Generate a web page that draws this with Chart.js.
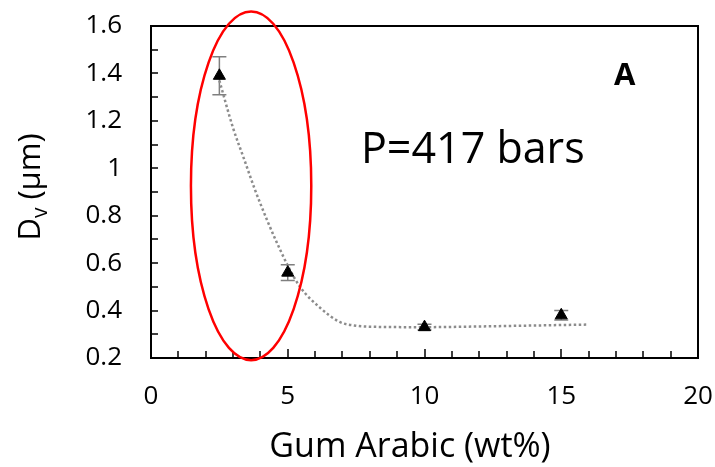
<!DOCTYPE html>
<html lang="en">
<head>
<meta charset="UTF-8">
<title>Dv vs Gum Arabic</title>
<script src="https://cdn.jsdelivr.net/npm/chart.js"></script>
<style>
  html, body { margin: 0; padding: 0; background: #fff; }
  #wrap { width: 715px; height: 467px; }
</style>
</head>
<body>
<div id="wrap"><canvas id="dvChart" width="715" height="467"></canvas></div>
<script>
  // measured points
  const gumArabic = [2.5, 5, 10, 15];
  const dv = [1.39, 0.56, 0.33, 0.38];
  const dvErr = [0.08, 0.033, 0.012, 0.02];

  // dotted trend line
  const trendX = [2.5, 3.0, 3.4, 3.8, 4.25, 4.55, 5.0, 5.45, 6.2, 6.9, 7.5, 8, 10, 12, 14, 16];
  const trendY = [1.37, 1.17, 1.04, 0.91, 0.78, 0.70, 0.59, 0.50, 0.41, 0.352, 0.336, 0.332, 0.330, 0.333, 0.337, 0.341];

  const xMin = 0, xMax = 20, xStep = 5, xMinorStep = 1;
  const yMin = 0.2, yMax = 1.6, yStep = 0.2, yMinorStep = 0.1;

  // highlighted region (ellipse) in data units
  const ringCenter = [3.66, 0.926];
  const ringRadius = [2.2, 0.735];

  const FONT = '"Open Sans", Lato, sans-serif';

  const decor = {
    id: 'decor',
    beforeDatasetsDraw(chart) {
      const ctx = chart.ctx;
      const xs = chart.scales.x, ys = chart.scales.y;
      ctx.save();
      ctx.strokeStyle = '#7f7f7f';
      ctx.lineWidth = 1.5;
      gumArabic.forEach((gx, i) => {
        const px = xs.getPixelForValue(gx);
        const top = ys.getPixelForValue(dv[i] + dvErr[i]);
        const bot = ys.getPixelForValue(dv[i] - dvErr[i]);
        ctx.beginPath();
        ctx.moveTo(px, top); ctx.lineTo(px, bot);
        ctx.moveTo(px - 7, top); ctx.lineTo(px + 7, top);
        ctx.moveTo(px - 7, bot); ctx.lineTo(px + 7, bot);
        ctx.stroke();
      });
      ctx.restore();
    },
    afterDraw(chart) {
      const ctx = chart.ctx;
      const a = chart.chartArea;
      const xs = chart.scales.x, ys = chart.scales.y;
      ctx.save();

      // frame
      ctx.strokeStyle = '#000';
      ctx.lineWidth = 2;
      ctx.strokeRect(a.left, a.top, a.right - a.left, a.bottom - a.top);

      // inward tick marks
      ctx.lineWidth = 1.5;
      ctx.beginPath();
      for (let v = xMin + xMinorStep; v < xMax; v += xMinorStep) {
        const px = Math.round(xs.getPixelForValue(v));
        const len = (v % xStep === 0) ? 9 : 7;
        ctx.moveTo(px, a.bottom); ctx.lineTo(px, a.bottom - len);
      }
      for (let k = 1; k < Math.round((yMax - yMin) / yMinorStep); k++) {
        const py = Math.round(ys.getPixelForValue(yMin + k * yMinorStep));
        ctx.moveTo(a.left, py); ctx.lineTo(a.left + 7, py);
      }
      ctx.stroke();

      // red ellipse
      const cx = xs.getPixelForValue(ringCenter[0]);
      const cy = ys.getPixelForValue(ringCenter[1]);
      const rx = xs.getPixelForValue(ringCenter[0] + ringRadius[0]) - cx;
      const ry = cy - ys.getPixelForValue(ringCenter[1] + ringRadius[1]);
      ctx.strokeStyle = '#ff0000';
      ctx.lineWidth = 2.5;
      ctx.beginPath();
      ctx.ellipse(cx, cy, rx, ry, 0, 0, Math.PI * 2);
      ctx.stroke();

      // annotations
      ctx.fillStyle = '#000';
      ctx.textBaseline = 'alphabetic';
      ctx.textAlign = 'left';
      ctx.font = '43px ' + FONT;
      ctx.fillText('P=417 bars', 361, 163);
      ctx.font = 'bold 31px ' + FONT;
      ctx.fillText('A', 614, 85);

      // x title
      ctx.font = '34px ' + FONT;
      ctx.textAlign = 'center';
      ctx.fillText('Gum Arabic (wt%)', 410, 457);

      // y title with subscript, rotated
      ctx.translate(40, 187);
      ctx.rotate(-Math.PI / 2);
      ctx.textAlign = 'left';
      const big = '31px ' + FONT, small = '21px ' + FONT;
      ctx.font = big;
      const wD = ctx.measureText('D').width;
      const wRest = ctx.measureText(' (\u00b5m)').width;
      ctx.font = small;
      const wv = ctx.measureText('v').width;
      let x0 = -(wD + wv + wRest) / 2;
      ctx.font = big;
      ctx.fillText('D', x0, 0);
      ctx.font = small;
      ctx.fillText('v', x0 + wD, 7);
      ctx.font = big;
      ctx.fillText(' (\u00b5m)', x0 + wD + wv, 0);

      ctx.restore();
    }
  };

  new Chart(document.getElementById('dvChart'), {
    type: 'scatter',
    data: {
      datasets: [
        {
          label: 'Dv',
          data: gumArabic.map((x, i) => ({ x: x, y: dv[i] })),
          pointStyle: 'triangle',
          pointRadius: 7,
          pointHoverRadius: 7,
          backgroundColor: '#000',
          borderColor: '#000',
          borderWidth: 1,
          showLine: false
        },
        {
          label: 'trend',
          data: trendX.map((x, i) => ({ x: x, y: trendY[i] })),
          showLine: true,
          borderColor: '#8c8c8c',
          borderWidth: 2.5,
          borderDash: [2.5, 2.5],
          pointRadius: 0,
          cubicInterpolationMode: 'monotone',
          fill: false
        }
      ]
    },
    options: {
      responsive: false,
      animation: false,
      layout: { padding: { top: 26, right: 17, left: 0, bottom: 0 } },
      plugins: {
        legend: { display: false },
        tooltip: { enabled: false }
      },
      scales: {
        x: {
          type: 'linear',
          min: xMin, max: xMax,
          grid: { display: false, drawTicks: false },
          border: { display: false },
          ticks: {
            stepSize: xStep,
            padding: 23,
            color: '#000',
            font: { family: FONT, size: 26 }
          },
          afterFit(scale) {
            scale.height = 109;
            scale.paddingLeft = 0;
            scale.paddingRight = 0;
          }
        },
        y: {
          min: yMin, max: yMax,
          grid: { display: false, drawTicks: false },
          border: { display: false },
          ticks: {
            stepSize: yStep,
            padding: 29,
            color: '#000',
            font: { family: FONT, size: 26 },
            callback: v => String(Number(v.toFixed(1)))
          },
          afterFit(scale) {
            scale.width = 151;
            scale.paddingTop = 0;
            scale.paddingBottom = 0;
          }
        }
      }
    },
    plugins: [decor]
  });
</script>
</body>
</html>
